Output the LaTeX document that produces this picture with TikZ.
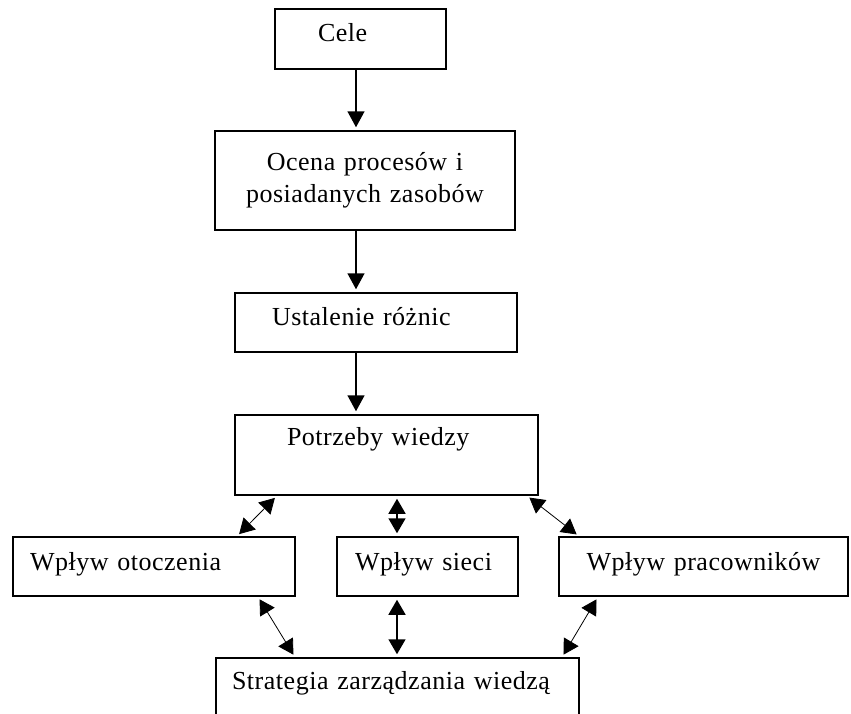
\documentclass[tikz,border=0pt]{standalone}
\usepackage{fontspec}
\setmainfont{Liberation Serif}[LetterSpace=2]
\usetikzlibrary{arrows.meta, calc}

\begin{document}
\begin{tikzpicture}[
    x=1pt, y=-1pt,
    box/.style={draw, line width=1.5pt, align=left, inner ysep=0pt,
                font=\fontsize{26}{32}\selectfont},
    flow/.style={-{Triangle[length=16pt,width=17pt]}, line width=1.5pt,
                 shorten >=3pt},
    dflow/.style={{Triangle[length=15pt,width=17pt]}-{Triangle[length=15pt,width=17pt]},
                  line width=1.5pt, shorten >=3pt, shorten <=3pt},
    sflow/.style={dflow, line width=0.8pt},
]
\useasboundingbox (0,0) rectangle (851,713);
\node[box, text width=85pt, inner xsep=43pt, minimum height=60pt, text depth=14pt] (cele) at (360.5,39) {Cele};
\node[box, align=center, text width=280pt, inner xsep=10pt, minimum height=99pt] (ocena) at (365,180.5)
   {Ocena procesów i\\posiadanych zasobów};
\node[box, text width=208pt, inner xsep=37pt, minimum height=59pt, text depth=13pt] (ustal) at (376,322.5) {Ustalenie różnic};
\node[box, text width=199pt, inner xsep=52pt, minimum height=80pt, text depth=38pt] (potrz) at (386.5,455)
   {Potrzeby wiedzy};
\node[box, text width=248pt, inner xsep=17pt, minimum height=59pt, text depth=10pt] (otocz) at (154,566.5) {Wpływ otoczenia};
\node[box, text width=145pt, inner xsep=18pt, minimum height=59pt, text depth=10pt] (sieci) at (427.5,566.5) {Wpływ sieci};
\node[box, align=center, text width=269pt, inner xsep=10pt, minimum height=59pt, text depth=10pt] (pracow) at (703.5,566.5)
   {Wpływ pracowników};
\node[box, text width=331pt, inner xsep=16pt, minimum height=82pt, text depth=38pt] (strat) at (397.5,699)
   {Strategia zarządzania wiedzą};
% chain down the middle
\draw[flow] ([xshift=-4.5pt]cele.south) -- ([xshift=-4.5pt]cele.south |- ocena.north);
\draw[flow] ([xshift=-9pt]ocena.south) -- ([xshift=-9pt]ocena.south |- ustal.north);
\draw[flow] ([xshift=-20pt]ustal.south) -- ([xshift=-20pt]ustal.south |- potrz.north);
% influences
\draw[sflow] ([xshift=83pt]otocz.north) -- ([xshift=-109.5pt]potrz.south);
\draw[dflow] ([xshift=-30.5pt]sieci.north) -- ([xshift=10.5pt]potrz.south);
\draw[sflow] ([xshift=-124.5pt]pracow.north) -- ([xshift=140.5pt]potrz.south);
\draw[sflow] ([xshift=104pt]otocz.south) -- ([xshift=-102.5pt]strat.north);
\draw[dflow] ([xshift=-30.5pt]sieci.south) -- ([xshift=-0.5pt]strat.north);
\draw[sflow] ([xshift=-105.5pt]pracow.south) -- ([xshift=164.5pt]strat.north);
\end{tikzpicture}
\end{document}
